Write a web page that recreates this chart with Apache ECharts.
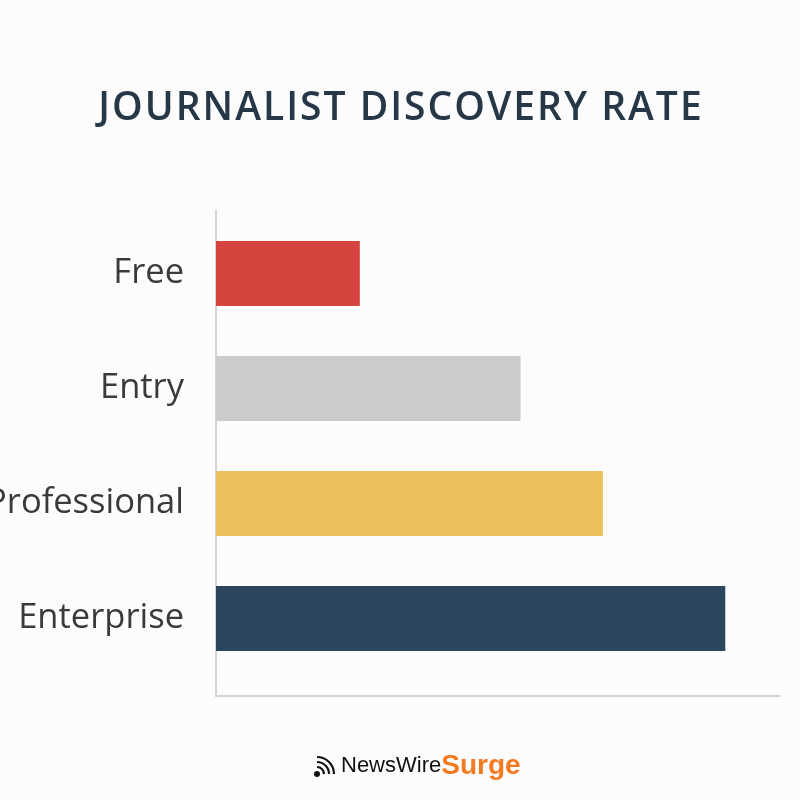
<!DOCTYPE html>
<html>
<head>
<meta charset="utf-8">
<script src="https://cdn.jsdelivr.net/npm/echarts@6/dist/echarts.min.js"></script>
<style>
  html, body { margin: 0; padding: 0; background: #fcfcfc; }
  #chart { width: 800px; height: 800px; }
</style>
</head>
<body>
<div id="chart"></div>
<script>
// data
const tiers = ['Free', 'Entry', 'Professional', 'Enterprise']
const discoveryRate = [25.5, 54, 68.6, 90.3]
const barColors = ['#d5443f', '#cbcbcb', '#ecc05b', '#2c465f']
const titleText = 'JOURNALIST DISCOVERY RATE'

const myChart = echarts.init(document.getElementById('chart'))

// letter-spaced title: one rich token per character, padded on both sides
const spacedTitle = titleText.split('').map(c => `{t|${c}}`).join('')

const option = {
    backgroundColor: '#fcfcfc',
    title: {
        text: spacedTitle,
        left: 'center',
        top: 84,
        textStyle: {
            rich: {
                t: {
                    color: '#263748',
                    fontSize: 39,
                    fontWeight: 600,
                    fontFamily: 'Open Sans',
                    padding: [0, 1, 0, 1]
                }
            }
        }
    },
    grid: {
        left: 216,
        right: 20,
        top: 216,
        bottom: 124,
        containLabel: false,
        outerBoundsMode: 'none'
    },
    xAxis: {
        type: 'value',
        min: 0,
        max: 100,
        offset: 20,
        axisLine: { show: true, lineStyle: { color: '#d4d4d4', width: 2 } },
        axisTick: { show: false },
        axisLabel: { show: false },
        splitLine: { show: false }
    },
    yAxis: {
        type: 'category',
        inverse: true,
        data: tiers,
        axisLine: { show: false },
        axisTick: { show: false },
        axisLabel: {
            margin: 32,
            color: '#3a3a3a',
            fontSize: 34.5,
            fontFamily: 'Open Sans'
        }
    },
    series: [{
        type: 'bar',
        barWidth: 65,
        data: discoveryRate.map((v, i) => ({
            value: v,
            itemStyle: { color: barColors[i] }
        }))
    }],
    graphic: [
        // y axis line, a bit taller than the bar area
        {
            type: 'line',
            shape: { x1: 216, y1: 210, x2: 216, y2: 697 },
            style: { stroke: '#d4d4d4', lineWidth: 2 }
        },
        // logo icon
        {
            type: 'circle',
            shape: { cx: 317, cy: 774, r: 3 },
            style: { fill: '#111' }
        },
        {
            type: 'arc',
            shape: { cx: 317, cy: 774, r: 7, startAngle: -Math.PI / 2, endAngle: 0 },
            style: { stroke: '#111', lineWidth: 2.2, fill: null }
        },
        {
            type: 'arc',
            shape: { cx: 317, cy: 774, r: 12, startAngle: -Math.PI / 2, endAngle: 0 },
            style: { stroke: '#111', lineWidth: 2.2, fill: null }
        },
        {
            type: 'arc',
            shape: { cx: 317, cy: 774, r: 17, startAngle: -Math.PI / 2, endAngle: 0 },
            style: { stroke: '#111', lineWidth: 2.2, fill: null }
        },
        {
            type: 'text',
            left: 341,
            top: 752,
            style: {
                text: '{a|NewsWire}{b|Surge}',
                rich: {
                    a: { fontSize: 22, fontFamily: 'Liberation Sans', fill: '#111' },
                    b: { fontSize: 28, fontWeight: 'bold', fontFamily: 'Liberation Sans', fill: '#f47a20' }
                }
            }
        }
    ]
}

myChart.setOption(option)
</script>
</body>
</html>
